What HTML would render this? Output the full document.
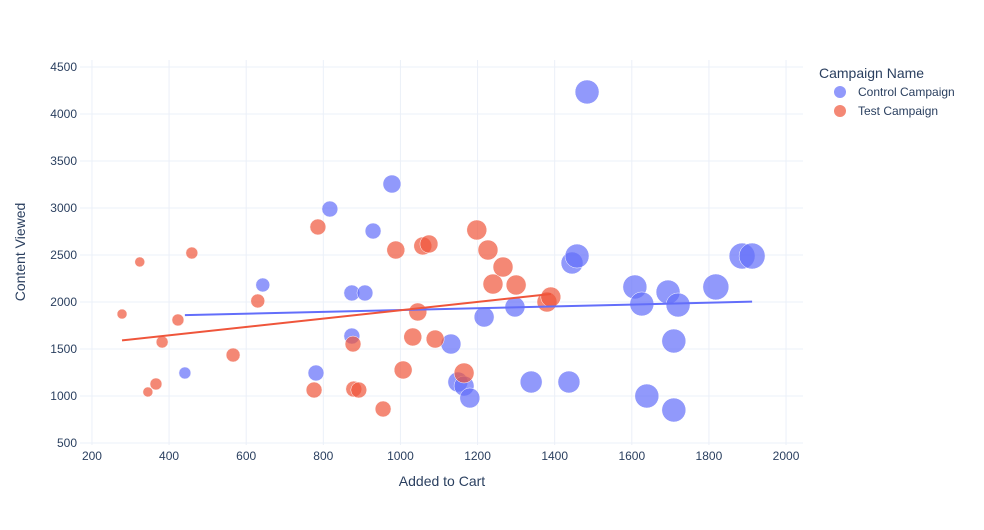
<!DOCTYPE html>
<html><head><meta charset="utf-8"><style>
body{margin:0;background:#fff;font-family:"Liberation Sans",sans-serif}
svg text{font-family:"Liberation Sans",sans-serif;fill:#2a3f5f}
</style></head><body>
<svg id="chart" width="984" height="525" xmlns="http://www.w3.org/2000/svg">
<rect width="984" height="525" fill="#fff"/>
<g id="grid"></g><g id="marks"></g><g id="axes"></g>
<text x="442" y="486" text-anchor="middle" font-size="14">Added to Cart</text>
<text transform="translate(25,252) rotate(-90)" text-anchor="middle" font-size="14">Content Viewed</text>
<g>
<text x="819" y="78" font-size="14">Campaign Name</text>
<g><circle cx="840" cy="92" r="6" fill="#636efa" fill-opacity="0.7"/><text x="858" y="96" font-size="12">Control Campaign</text></g>
<g><circle cx="840" cy="111" r="6" fill="#ef553b" fill-opacity="0.7"/><text x="858" y="115" font-size="12">Test Campaign</text></g>
</g>
</svg>
<script>
const xTicks=[200,400,600,800,1000,1200,1400,1600,1800,2000];
const yTicks=[500,1000,1500,2000,2500,3000,3500,4000,4500];
const controlX=[441,643,817,781,874,908,874,929,978,1131,1217,1149,1165,1180,1297,1339,1437,1445,1458,1484,1608,1626,1639,1694,1709,1709,1720,1818,1886,1912];
const controlY=[1245,2181,2989,1245,2096,2096,1638,2755,3255,1553,1840,1149,1106,979,1947,1149,1149,2415,2489,4234,2160,1979,1000,2106,1585,851,1968,2160,2489,2489];
const controlSize=[6,7,8,8,8,8,8,8,9,10,10,10,10,10,10,11,11,11,12,12,12,12,12,12,12,12,12,13,13,13];
const testX=[278,324,345,366,382,423,459,566,630,776,786,877,879,892,955,988,1007,1032,1045,1058,1074,1090,1165,1198,1227,1240,1266,1300,1380,1390];
const testY=[1872,2426,1043,1128,1574,1809,2521,1436,2011,1064,2798,1553,1074,1064,862,2553,1277,1628,1894,2596,2617,1606,1245,2766,2553,2191,2372,2181,2000,2053];
const testSize=[5,5,5,6,6,6,6,7,7,8,8,8,8,8,8,9,9,9,9,9,9,9,10,10,10,10,10,10,10,10];
const L=80,R=803,T=60,B=445,x0=169,x1=2044,y0=479,y1=4574;
const sx=v=>L+(v-x0)/(x1-x0)*(R-L);
const sy=v=>B-(v-y0)/(y1-y0)*(B-T);
const NS="http://www.w3.org/2000/svg";
function mk(p,t,a){const e=document.createElementNS(NS,t);for(const k in a)e.setAttribute(k,a[k]);p.appendChild(e);return e;}
const grid=document.getElementById('grid'),axes=document.getElementById('axes'),marks=document.getElementById('marks');
xTicks.forEach(t=>{const l=mk(grid,'line',{x1:sx(t),x2:sx(t),y1:T,y2:B,stroke:'#ebf0f8'});


const tx=mk(axes,'text',{x:sx(t),y:B+15,'text-anchor':'middle','font-size':12});tx.textContent=t;

});
yTicks.forEach(t=>{const l=mk(grid,'line',{x1:L,x2:R,y1:sy(t),y2:sy(t),stroke:'#ebf0f8'});


const tx=mk(axes,'text',{x:L-3,y:sy(t)+4,'text-anchor':'end','font-size':12});tx.textContent=t;

});
function series(xs,ys,ss,col,name){
 xs.forEach((x,i)=>{const c=mk(marks,'circle',{cx:sx(x),cy:sy(ys[i]),r:ss[i],fill:col,'fill-opacity':0.7,stroke:'#fff','stroke-width':0.5});
 
 });
}
function trend(xs,ys,col,name){
 const n=xs.length,mx=xs.reduce((a,b)=>a+b)/n,my=ys.reduce((a,b)=>a+b)/n;
 let sxy=0,sxx=0;xs.forEach((x,i)=>{sxy+=(x-mx)*(ys[i]-my);sxx+=(x-mx)*(x-mx);});
 const b=sxy/sxx,a=my-b*mx,mn=Math.min(...xs),mxx=Math.max(...xs);
 const l=mk(marks,'line',{x1:sx(mn),y1:sy(a+b*mn),x2:sx(mxx),y2:sy(a+b*mxx),stroke:col,'stroke-width':2});
 
 
}
series(controlX,controlY,controlSize,'#636efa','control');
series(testX,testY,testSize,'#ef553b','test');
trend(controlX,controlY,'#636efa','control');
trend(testX,testY,'#ef553b','test');
</script>
</body></html>
